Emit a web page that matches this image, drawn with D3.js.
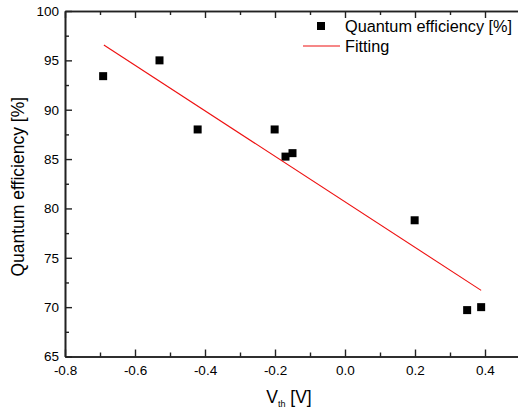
<!DOCTYPE html>
<html><head><meta charset="utf-8">
<script src="https://cdn.jsdelivr.net/npm/d3@7"></script>
<style>body{margin:0;background:#fff}svg{display:block}text{font-family:"Liberation Sans",Arial,sans-serif;fill:#000}</style>
</head><body><svg id="c" width="518" height="408"></svg>
<script>
const vth = [-0.691, -0.530, -0.421, -0.201, -0.170, -0.150, 0.199, 0.349, 0.389];
const qe  = [93.4, 95.0, 88.0, 88.0, 85.25, 85.6, 78.8, 69.7, 70.0];
const fitX = [-0.689, 0.389];
const fitY = [96.55, 71.7];
const xTicks = [-0.8, -0.6, -0.4, -0.2, 0.0, 0.2, 0.4];
const xMinor = [-0.7, -0.5, -0.3, -0.1, 0.1, 0.3, 0.5];
const yTicks = [65, 70, 75, 80, 85, 90, 95, 100];
const yMinor = [67.5, 72.5, 77.5, 82.5, 87.5, 92.5, 97.5];
const seriesNames = ["Quantum efficiency [%]", "Fitting"];

const svg = d3.select("#c");
const L = 65, T = 11, B = 356.5, R = 520;
const x = d3.scaleLinear().domain([-0.8, 0.5]).range([L, R]);
const y = d3.scaleLinear().domain([65, 100]).range([B, T]);

const fmtX = v => d3.format(".1f")(v).replace("\u2212", "-");
const gx = svg.append("g").attr("transform", `translate(0,${B})`)
  .call(d3.axisBottom(x).tickValues(xTicks).tickSizeInner(-7).tickSizeOuter(0).tickPadding(10).tickFormat(fmtX));
const gxm = svg.append("g").attr("transform", `translate(0,${B})`)
  .call(d3.axisBottom(x).tickValues(xMinor).tickSizeInner(-4).tickSizeOuter(0).tickFormat(""));
const gxt = svg.append("g").attr("transform", `translate(0,${T})`)
  .call(d3.axisTop(x).tickValues(xTicks).tickSizeInner(-7).tickSizeOuter(0).tickFormat(""));
const gxtm = svg.append("g").attr("transform", `translate(0,${T})`)
  .call(d3.axisTop(x).tickValues(xMinor).tickSizeInner(-4).tickSizeOuter(0).tickFormat(""));
const gy = svg.append("g").attr("transform", `translate(${L},0)`)
  .call(d3.axisLeft(y).tickValues(yTicks).tickSizeInner(-7).tickSizeOuter(0).tickPadding(6).tickFormat(d3.format("d")));
const gym = svg.append("g").attr("transform", `translate(${L},0)`)
  .call(d3.axisLeft(y).tickValues(yMinor).tickSizeInner(-4).tickSizeOuter(0).tickFormat(""));

[gx,gxm,gxt,gxtm,gy,gym].forEach(g=>{
  g.selectAll(".domain").attr("stroke","#222").attr("stroke-width",1.6);
  g.selectAll(".tick line").attr("stroke","#222").attr("stroke-width",1.4);
  g.selectAll("text").style("font-size","13.5px").attr("fill","#000");
});
gx.selectAll("text").attr("dy","0.6em");

// data
svg.append("g").selectAll("rect").data(vth.map((v,i)=>[v,qe[i]])).join("rect")
  .attr("x",d=>x(d[0])-4).attr("y",d=>y(d[1])-4).attr("width",8).attr("height",8).attr("fill","#000");

svg.append("path").datum(fitX.map((v,i)=>[v,fitY[i]]))
  .attr("d", d3.line().x(d=>x(d[0])).y(d=>y(d[1])))
  .attr("stroke","#ee1111").attr("stroke-width",1.1).attr("fill","none");

// legend
svg.append("rect").attr("x",317).attr("y",22).attr("width",8).attr("height",8).attr("fill","#000");
svg.append("text").attr("x",345).attr("y",31.5).style("font-size","16.3px").text(seriesNames[0]);
svg.append("line").attr("x1",303).attr("x2",340).attr("y1",46).attr("y2",46).attr("stroke","#ee1111").attr("stroke-width",1.1);
svg.append("text").attr("x",345).attr("y",52).style("font-size","16.3px").text(seriesNames[1]);

// axis titles
svg.append("text").attr("transform",`translate(24,${(T+B)/2+3}) rotate(-90)`).attr("text-anchor","middle")
  .style("font-size","17.5px").text("Quantum efficiency [%]");
const xt = svg.append("text").attr("x",289).attr("y",403).attr("text-anchor","middle").style("font-size","17.5px");
xt.append("tspan").text("V");
xt.append("tspan").attr("dy",4).style("font-size","9px").text("th");
xt.append("tspan").attr("dy",-4).text(" [V]");
</script></body></html>
